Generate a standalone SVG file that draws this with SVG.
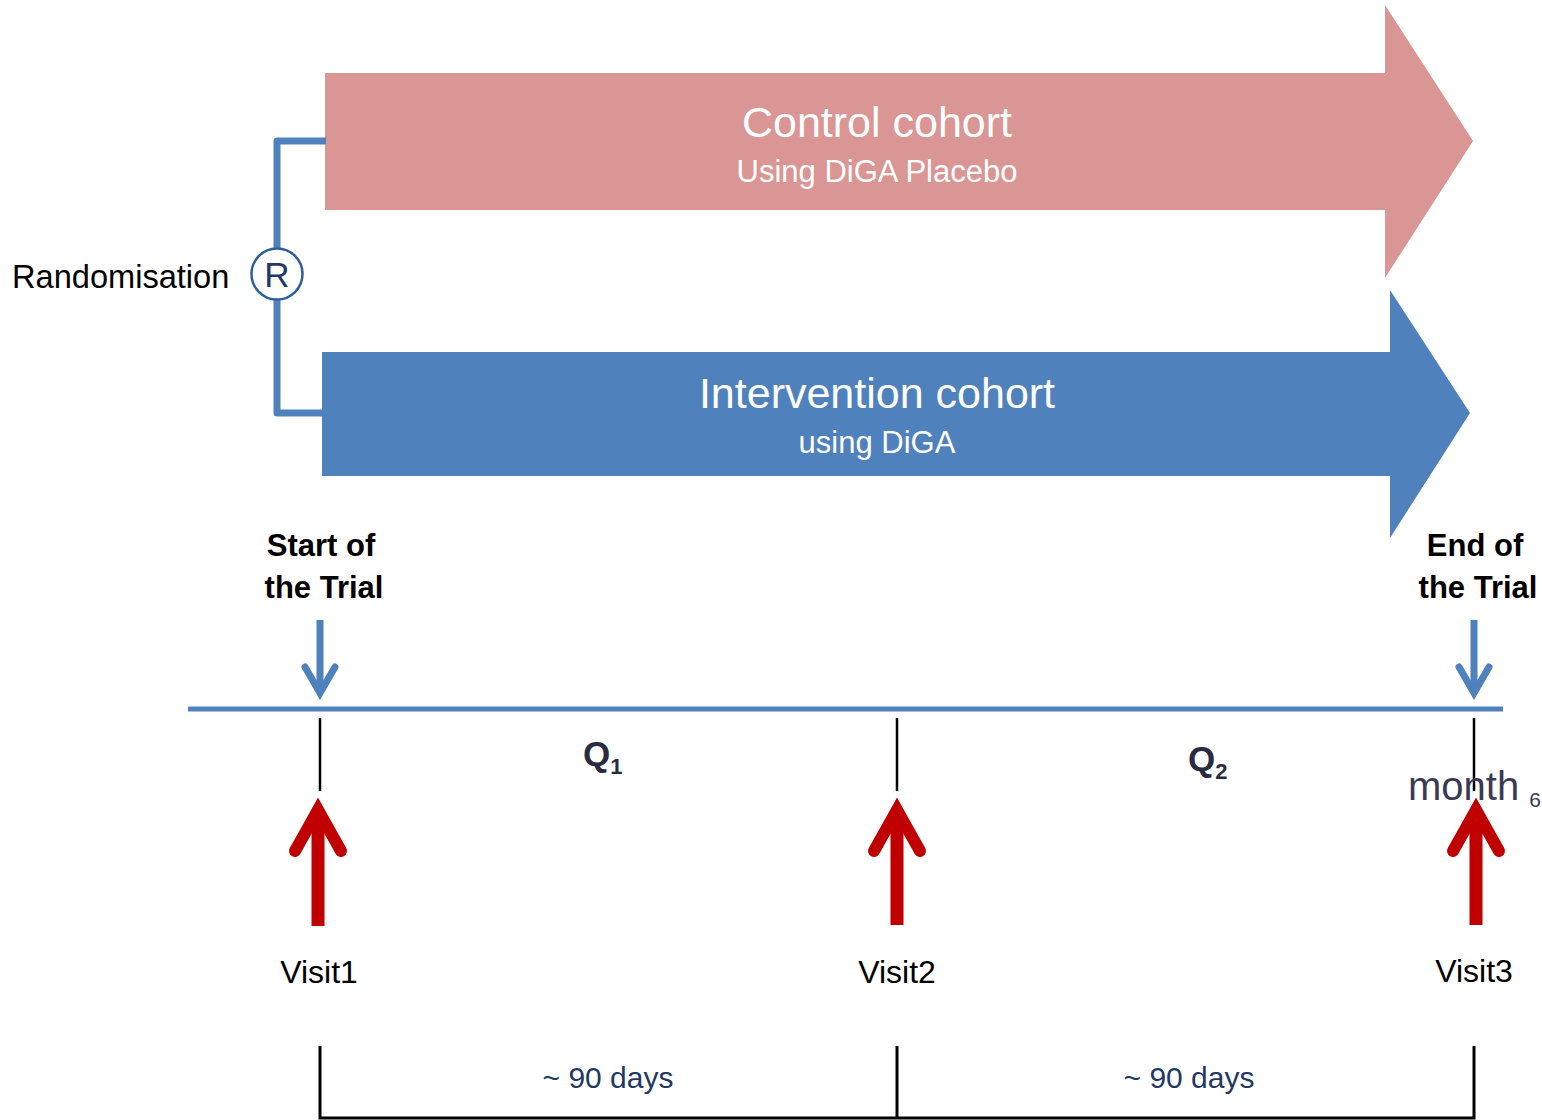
<svg xmlns="http://www.w3.org/2000/svg" width="1542" height="1120" viewBox="0 0 1542 1120">
  <style>
    text { font-family: "Liberation Sans", Arial, sans-serif; }
    .white { fill: #ffffff; text-anchor: middle; }
    .lbl { fill: #000000; text-anchor: middle; }
    .bold { font-weight: bold; }
    .days { fill: #1F3864; text-anchor: middle; font-size: 30px; }
    .q { fill: #2A2A42; font-weight: bold; font-size: 35px; }
    .blue-line { stroke: #4F81BD; fill: none; }
    .tick { stroke: #000000; stroke-width: 2.5; fill: none; }
    .shaft { stroke: #C00000; stroke-width: 13; stroke-linecap: butt; }
    .barb { stroke: #C00000; stroke-width: 12; fill: none; stroke-linecap: round; stroke-linejoin: miter; }
  </style>

  <!-- cohort arrows -->
  <g id="control-cohort">
    <polygon points="325,73 1385,73 1385,5 1473,141 1385,278 1385,210 325,210" fill="#D99694"/>
    <text class="white" x="877" y="137" font-size="43">Control cohort</text>
    <text class="white" x="877" y="182" font-size="31">Using DiGA Placebo</text>
  </g>

  <g id="intervention-cohort">
    <polygon points="322,352 1390,352 1390,290 1470,413 1390,538 1390,476 322,476" fill="#4F81BD"/>
    <text class="white" x="877" y="408" font-size="43">Intervention cohort</text>
    <text class="white" x="877" y="453" font-size="31">using DiGA</text>
  </g>

  <g id="connectors">
    <!-- randomisation bracket -->
    <polyline class="blue-line" stroke-width="7" stroke-linejoin="round" points="326,141 277,141 277,413 323,413"/>
    <!-- timeline -->
    <line class="blue-line" stroke-width="5" x1="188" y1="709" x2="1503" y2="709"/>
    <!-- start / end pointers -->
    <g fill="none" stroke="#4F81BD" stroke-width="7" stroke-linecap="round">
      <line x1="320" y1="620" x2="320" y2="688" stroke-linecap="butt"/>
      <polyline points="305,667 320,693 335,667" stroke-linejoin="miter"/>
      <line x1="1474" y1="620" x2="1474" y2="688" stroke-linecap="butt"/>
      <polyline points="1459,667 1474,693 1489,667" stroke-linejoin="miter"/>
    </g>
    <!-- visit ticks -->
    <line class="tick" x1="320" y1="718" x2="320" y2="791"/>
    <line class="tick" x1="897" y1="718" x2="897" y2="791"/>
    <line class="tick" x1="1474" y1="718" x2="1474" y2="791"/>
    <!-- interval bracket -->
    <polyline fill="none" stroke="#000000" stroke-width="3" points="320,1046 320,1118 1474,1118 1474,1046"/>
    <line stroke="#000000" stroke-width="3" x1="897" y1="1046" x2="897" y2="1118"/>
  </g>

  <g id="randomisation">
    <text x="12" y="288" font-size="32.6" fill="#000000">Randomisation</text>
    <circle cx="277" cy="274" r="25.5" fill="#ffffff" stroke="#2F5F9A" stroke-width="2.5"/>
    <text x="277" y="287" font-size="35" fill="#1F3864" text-anchor="middle">R</text>
  </g>

  <g id="start-label">
    <text class="lbl bold" x="321" y="556" font-size="31">Start of</text>
    <text class="lbl bold" x="324" y="598" font-size="31">the Trial</text>
  </g>
  <g id="end-label">
    <text class="lbl bold" x="1475" y="556" font-size="31">End of</text>
    <text class="lbl bold" x="1478" y="598" font-size="31">the Trial</text>
  </g>

  <g id="q1">
    <text class="q" x="583" y="766">Q<tspan font-size="22" dy="8">1</tspan></text>
  </g>
  <g id="q2">
    <text class="q" x="1188" y="771">Q<tspan font-size="22" dy="8">2</tspan></text>
  </g>
  <g id="month6">
    <text x="1408" y="800" font-size="40" fill="#3A3A55">month<tspan font-size="21" dx="10" dy="7">6</tspan></text>
  </g>

  <!-- visits -->
  <g id="visit1">
    <line class="shaft" x1="318" y1="926" x2="318" y2="812"/>
    <polyline class="barb" points="295,851 318,810 341,851"/>
    <polygon points="318,798 304,824 332,824" fill="#C00000"/>
    <text class="lbl" x="319" y="983" font-size="32">Visit1</text>
  </g>
  <g id="visit2">
    <line class="shaft" x1="897" y1="925" x2="897" y2="812"/>
    <polyline class="barb" points="874,851 897,810 920,851"/>
    <polygon points="897,798 883,824 911,824" fill="#C00000"/>
    <text class="lbl" x="897" y="983" font-size="32">Visit2</text>
  </g>
  <g id="visit3">
    <line class="shaft" x1="1476" y1="925" x2="1476" y2="812"/>
    <polyline class="barb" points="1453,851 1476,810 1499,851"/>
    <polygon points="1476,798 1462,824 1490,824" fill="#C00000"/>
    <text class="lbl" x="1474" y="982" font-size="32">Visit3</text>
  </g>

  <g id="interval-labels">
    <text class="days" x="608" y="1088">~ 90 days</text>
    <text class="days" x="1189" y="1088">~ 90 days</text>
  </g>
</svg>
